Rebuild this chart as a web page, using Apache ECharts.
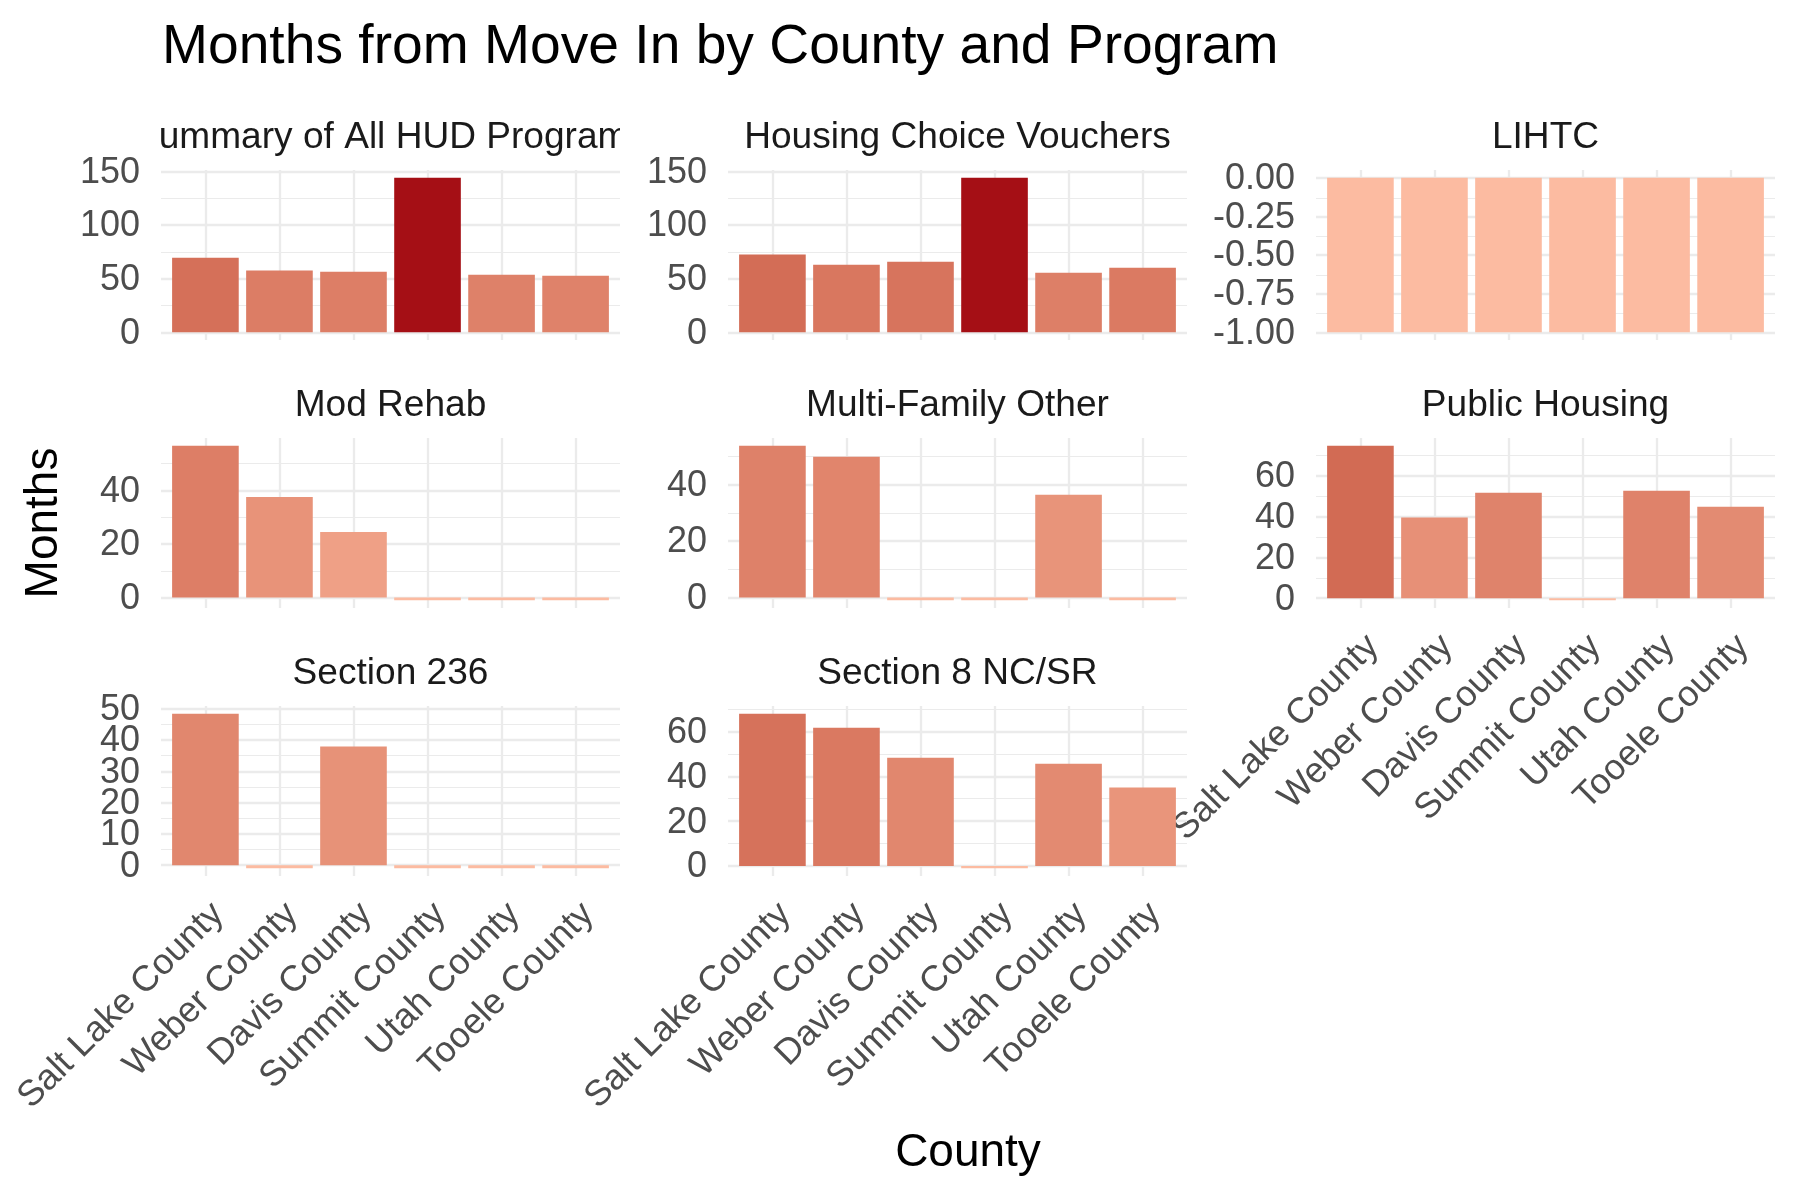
<!DOCTYPE html>
<html><head><meta charset="utf-8">
<script src="https://cdn.jsdelivr.net/npm/echarts@6/dist/echarts.min.js"></script>
<style>html,body{margin:0;padding:0;background:#fff}#c{width:1800px;height:1200px}</style>
</head><body><div id="c"></div>
<script>
// ---- data ----
const counties = ['Salt Lake County','Weber County','Davis County','Summit County','Utah County','Tooele County'];
const programs = ['Summary of All HUD Programs','Housing Choice Vouchers','LIHTC','Mod Rehab','Multi-Family Other','Public Housing','Section 236','Section 8 NC/SR'];
const summaryAll            = [69.6, 57.5, 56.5, 144.1, 53.7, 52.8];
const housingChoiceVouchers = [72.4, 63.0, 65.8, 144.1, 55.6, 60.2];
const lihtc                 = [-1, -1, -1, -1, -1, -1];
const modRehab              = [56.7, 37.6, 24.5, -1, -1, -1];
const multiFamilyOther      = [53.8, 49.9, -1, -1, 36.4, -1];
const publicHousing         = [74.7, 39.5, 51.7, -1, 52.7, 44.8];
const section236            = [48.4, -1, 37.9, -1, -1, -1];
const section8NCSR          = [67.9, 61.6, 48.3, -1, 45.6, 35.0];
// tick labels
const ticksSummary  = [0, 50, 100, 150];
const ticksHCV      = [0, 50, 100, 150];
const ticksLIHTC    = [-1, -0.75, -0.5, -0.25, 0];
const ticksModRehab = [0, 20, 40];
const ticksMulti    = [0, 20, 40];
const ticksPublic   = [0, 20, 40, 60];
const ticks236      = [0, 10, 20, 30, 40, 50];
const ticksSec8     = [0, 20, 40, 60];

const panels = [
  {title: programs[0], data: summaryAll, ticks: ticksSummary, dec: 0},
  {title: programs[1], data: housingChoiceVouchers, ticks: ticksHCV, dec: 0},
  {title: programs[2], data: lihtc, ticks: ticksLIHTC, dec: 2},
  {title: programs[3], data: modRehab, ticks: ticksModRehab, dec: 0},
  {title: programs[4], data: multiFamilyOther, ticks: ticksMulti, dec: 0},
  {title: programs[5], data: publicHousing, ticks: ticksPublic, dec: 0},
  {title: programs[6], data: section236, ticks: ticks236, dec: 0},
  {title: programs[7], data: section8NCSR, ticks: ticksSec8, dec: 0}
];

const FONT = '"Liberation Sans", Arial, Helvetica, sans-serif';
const colLeft = [161, 728, 1316], rowTop = [170, 438, 706], PW = 459, PH = 170;
const stripY = [137.5, 405.5, 673.5];
const bottomPanels = new Set([5, 6, 7]);
const catPos = counties.map((c, k) => k + 1);          // discrete positions 1..n
const xMin = 0.4, xMax = counties.length + 0.6;         // ggplot discrete expansion
const bandPx = PW / (xMax - xMin);

const chart = echarts.init(document.getElementById('c'), null, {renderer: 'canvas'});
const grids = [], xAxes = [], yAxes = [], series = [], graphics = [], barIdx = [];
let allMin = Infinity, allMax = -Infinity;

function yAxisDef(i, ymin, ymax, vals, dec) {
  return {
    type: 'value', gridIndex: i, position: 'left', offset: 0, min: ymin, max: ymax,
    axisLine: {show: false}, axisTick: {show: false}, splitLine: {show: false},
    axisLabel: {customValues: vals, formatter: v => Number(v).toFixed(dec),
      hideOverlap: false, showMinLabel: true, showMaxLabel: true,
      verticalAlign: 'top', lineHeight: 3,
      fontSize: 36, color: '#4D4D4D', margin: 21, fontFamily: FONT}
  };
}

panels.forEach((p, i) => {
  const col = i % 3, row = Math.floor(i / 3);
  const left = colLeft[col], top = rowTop[row];
  grids.push({left: left, top: top, width: PW, height: PH, containLabel: false});
  const lo = Math.min(0, ...p.data), hi = Math.max(0, ...p.data), span = hi - lo;
  allMin = Math.min(allMin, ...p.data); allMax = Math.max(allMax, ...p.data);
  const ymin = lo - 0.05 * span, ymax = hi + 0.05 * span;
  xAxes.push({
    type: 'value', gridIndex: i, min: xMin, max: xMax,
    axisLine: {show: false}, axisTick: {show: false}, splitLine: {show: false},
    axisLabel: {show: bottomPanels.has(i), customValues: catPos, formatter: v => counties[Math.round(v) - 1],
      rotate: 45, align: 'right', verticalAlign: 'top', hideOverlap: false,
      margin: 20, fontSize: 36, color: '#4D4D4D', fontFamily: FONT}
  });
  // two label layers (alternate ticks) so that closely packed labels are all kept
  const yMain = yAxes.length;
  yAxes.push(yAxisDef(i, ymin, ymax, p.ticks.filter((t, k) => k % 2 === 0), p.dec));
  yAxes.push(yAxisDef(i, ymin, ymax, p.ticks.filter((t, k) => k % 2 === 1), p.dec));
  const d = p.ticks[1] - p.ticks[0];
  const ml = [];
  for (let k = p.ticks[0] - d; k <= p.ticks[p.ticks.length - 1] + d + 1e-9; k += d) {
    const m = k + d / 2;
    if (m > ymin && m < ymax) ml.push({yAxis: m, lineStyle: {width: 1.2}});
  }
  p.ticks.forEach(t => ml.push({yAxis: t, lineStyle: {width: 2.3}}));
  catPos.forEach(c => ml.push({xAxis: c, lineStyle: {width: 2.3}}));
  series.push({
    type: 'line', xAxisIndex: i, yAxisIndex: yMain, data: [], silent: true, z: 1,
    markLine: {silent: true, z: 1, symbol: ['none', 'none'], label: {show: false}, animation: false,
      lineStyle: {color: '#EBEBEB', type: 'solid'}, emphasis: {disabled: true}, data: ml}
  });
  barIdx.push(series.length);
  series.push({
    type: 'bar', name: p.title, xAxisIndex: i, yAxisIndex: yMain,
    data: p.data.map((v, k) => [catPos[k], v]),
    barWidth: 0.9 * bandPx, z: 2, animation: false, emphasis: {disabled: true}
  });
  graphics.push({
    type: 'text', x: left + PW / 2, y: stripY[row], z: 50, silent: true,
    style: {text: p.title, align: 'center', verticalAlign: 'middle',
      font: '37.1px ' + FONT, fill: '#1A1A1A'}
  });
});

// clip the overflowing first strip label to its panel width
graphics.push({type: 'rect', z: 100, silent: true, shape: {x: 0, y: 110, width: colLeft[0], height: 46}, style: {fill: '#fff'}});
graphics.push({type: 'rect', z: 100, silent: true, shape: {x: colLeft[0] + PW, y: 110, width: 80, height: 46}, style: {fill: '#fff'}});

graphics.push({type: 'text', x: 162, y: 47.5, z: 50, silent: true,
  style: {text: 'Months from Move In by County and Program', align: 'left', verticalAlign: 'middle',
    font: '55.2px ' + FONT, fill: '#000'}});
graphics.push({type: 'text', x: 44, y: 523, rotation: Math.PI / 2, z: 50, silent: true,
  style: {text: 'Months', align: 'center', verticalAlign: 'middle', font: '46px ' + FONT, fill: '#000'}});
graphics.push({type: 'text', x: 968, y: 1153.5, z: 50, silent: true,
  style: {text: 'County', align: 'center', verticalAlign: 'middle', font: '46px ' + FONT, fill: '#000'}});

chart.setOption({
  animation: false,
  backgroundColor: '#fff',
  grid: grids, xAxis: xAxes, yAxis: yAxes, series: series,
  visualMap: {show: false, type: 'continuous', min: allMin, max: allMax, seriesIndex: barIdx, dimension: 1,
    inRange: {color: ['#FCBBA1', '#E9957B', '#D46E57', '#BE4635', '#A50F15']}},
  graphic: {elements: graphics}
});
</script>
</body></html>
